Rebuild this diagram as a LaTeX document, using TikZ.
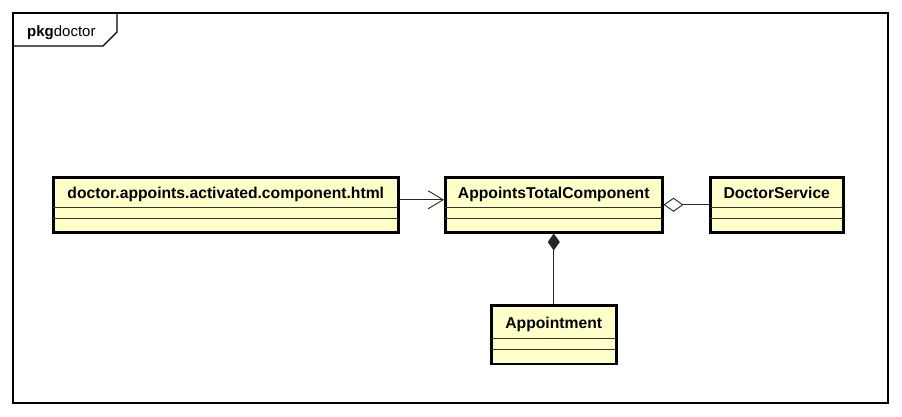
\documentclass[tikz,border=0pt]{standalone}
\usepackage{fontspec}
\setmainfont{Liberation Sans}
\usetikzlibrary{positioning,arrows.meta,shapes.multipart}
\definecolor{classfill}{RGB}{255,255,202}

\newcommand{\classtitle}[1]{\rule[-8pt]{0pt}{28pt}#1}
\newcommand{\emptyparts}{\nodepart{two}\rule{0pt}{8pt}\nodepart{three}\rule{0pt}{11.5pt}}

\begin{document}
\begin{tikzpicture}[
x=1pt,y=-1pt,
>=Latex,
umlclass/.style={
draw,
line width=2.5pt,
fill=classfill,
rectangle split,
rectangle split parts=3,
rectangle split draw splits=false,
inner sep=0pt,
font=\fontsize{15.7}{18}\selectfont\bfseries
},
sep/.style={
line width=0.9pt,
black!80,
shorten <=1.2pt,
shorten >=1.2pt
},
link/.style={
line width=0.9pt,
black!85
}
]

\useasboundingbox (0,0) rectangle (902,416);

%%%%%%%%%%%%%%%%%%%%%%%%%%%%%%%%%%%%%%%%%%%%%
% Package frame
%%%%%%%%%%%%%%%%%%%%%%%%%%%%%%%%%%%%%%%%%%%%%

\draw[line width=1.2pt] (13,13) rectangle (888,403);

\draw[line width=1.2pt] (13,46) -- (103,46) -- (117,32) -- (117,13);

\node[anchor=base west,inner sep=0pt,font=\fontsize{15}{18}\selectfont] (pkglabel) at (27,36)
{\textbf{pkg}doctor};

%%%%%%%%%%%%%%%%%%%%%%%%%%%%%%%%%%%%%%%%%%%%%
% Classes
%%%%%%%%%%%%%%%%%%%%%%%%%%%%%%%%%%%%%%%%%%%%%

\node[umlclass,minimum width=345pt,anchor=north west] (html) at (52,176)
{\classtitle{doctor.appoints.activated.component.html}\emptyparts};

\node[umlclass,minimum width=217pt,right=44.5pt of html.north east,anchor=north west] (total)
{\classtitle{AppointsTotalComponent}\emptyparts};

\node[umlclass,minimum width=133pt,right=45.5pt of total.north east,anchor=north west] (service)
{\classtitle{DoctorService}\emptyparts};

\node[umlclass,minimum width=125pt,below=70.5pt of total] (appt)
{\rule[-9pt]{0pt}{31pt}Appointment\nodepart{two}\rule{0pt}{8pt}\nodepart{three}\rule{0pt}{12pt}};

\foreach \c in {html,total,service,appt}{
\draw[sep] (\c.text split west) -- (\c.text split east);
\draw[sep] (\c.two split west) -- (\c.two split east);
}

%%%%%%%%%%%%%%%%%%%%%%%%%%%%%%%%%%%%%%%%%%%%%
% Connections
%%%%%%%%%%%%%%%%%%%%%%%%%%%%%%%%%%%%%%%%%%%%%

\draw[link,-{Straight Barb[length=15pt,width=18pt]}] ([yshift=5pt]html.east)--([yshift=5pt]total.west);

\draw[link,{Diamond[open,fill=white,length=20pt,width=14pt]}-] (total.east)--(service.west);

\draw[link,{Diamond[length=17pt,width=12pt]}-] (total.south)--(total.south |- appt.north);

\end{tikzpicture}
\end{document}
